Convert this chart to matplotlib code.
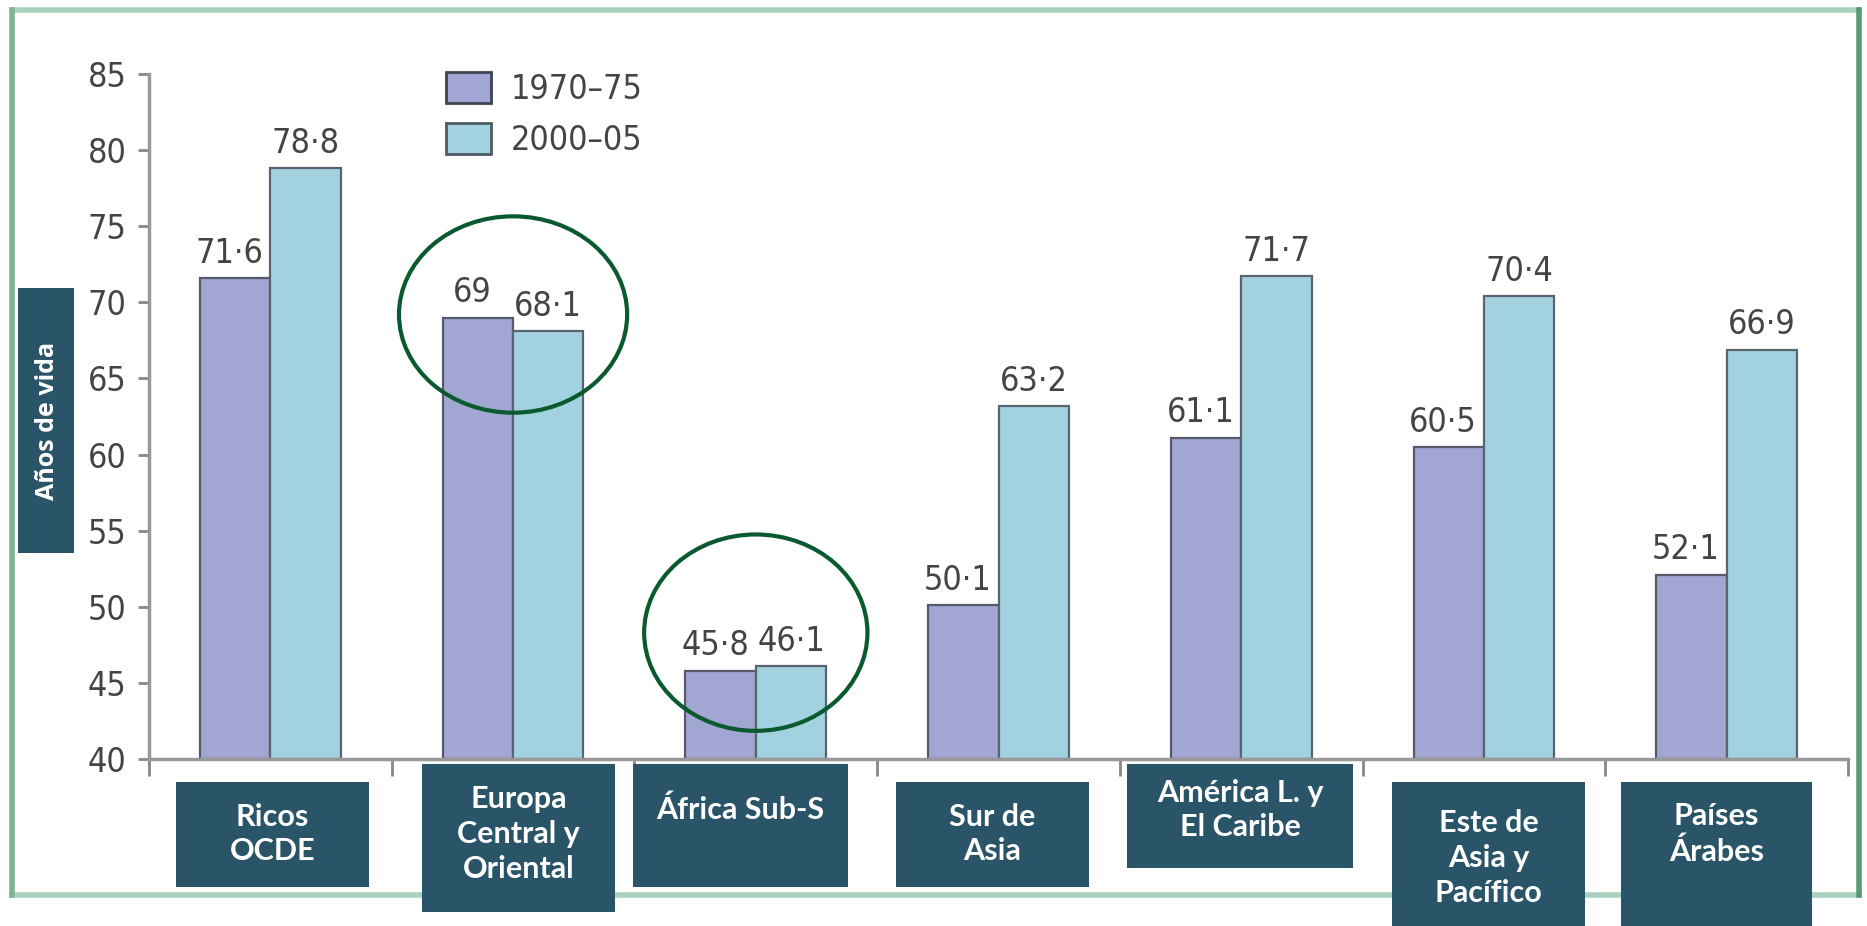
import matplotlib
matplotlib.use("Agg")
import matplotlib.pyplot as plt
from matplotlib.patches import Rectangle, Ellipse, Patch
from matplotlib.lines import Line2D
import numpy as np

# data
regions = ["Ricos\nOCDE", "Europa\nCentral y\nOriental", "África Sub-S", "Sur de\nAsia",
           "América L. y\nEl Caribe", "Este de\nAsia y\nPacífico", "Países\nÁrabes"]
series_names = ["1970–75", "2000–05"]
vals_1970 = [71.6, 69.0, 45.8, 50.1, 61.1, 60.5, 52.1]
vals_2000 = [78.8, 68.1, 46.1, 63.2, 71.7, 70.4, 66.9]
yticks = [40, 45, 50, 55, 60, 65, 70, 75, 80, 85]
circled = [1, 2]  # groups highlighted with a circle

W, H = 1867, 926
fig = plt.figure(figsize=(W / 100, H / 100), dpi=100)
fig.patch.set_facecolor("white")

num_font = {"family": ["DejaVu Sans"], "stretch": "condensed", "size": 24.5}
box_font = ["Lato", "DejaVu Sans"]
c1970 = "#a2a6d2"
c2000 = "#a2d2e0"
navy = "#2a5468"
grey = "#444444"


def px(x0, y0, x1, y1):
    # pixel box (top-left origin) -> figure fraction rect
    return (x0 / W, 1 - y1 / H, (x1 - x0) / W, (y1 - y0) / H)


# outer green frame
fig.add_artist(Line2D([12 / W, 1859 / W], [1 - 10 / H, 1 - 10 / H], color="#a9d1bd", lw=4, transform=fig.transFigure, zorder=1))
fig.add_artist(Line2D([12 / W, 1859 / W], [1 - 895 / H, 1 - 895 / H], color="#a9d1bd", lw=4, transform=fig.transFigure, zorder=1))
fig.add_artist(Line2D([12 / W, 12 / W], [1 - 10 / H, 1 - 895 / H], color="#7fb394", lw=4, transform=fig.transFigure, zorder=1))
fig.add_artist(Line2D([1859 / W, 1859 / W], [1 - 10 / H, 1 - 895 / H], color="#5a9a78", lw=4, transform=fig.transFigure, zorder=1))

ax = fig.add_axes(px(149, 74, 1848, 759))
ax.set_facecolor("none")

x = np.arange(len(regions))
bw = 0.29
ax.bar(x - bw / 2, [v - 40 for v in vals_1970], bw, bottom=40, color=c1970,
       edgecolor="#55596a", linewidth=1.6, zorder=2)
ax.bar(x + bw / 2, [v - 40 for v in vals_2000], bw, bottom=40, color=c2000,
       edgecolor="#5a6470", linewidth=1.6, zorder=2)

# first-period labels sit a touch left of their bar, as in the source
for xs, vals, dx in [(x - bw / 2, vals_1970, -4), (x + bw / 2, vals_2000, 0)]:
    for xi, v in zip(xs, vals):
        ax.annotate(f"{v:g}".replace(".", "·"), (xi, v), xytext=(dx, 6), textcoords="offset points",
                    ha="center", va="bottom", color=grey, **num_font)

ax.set_ylim(40, 85)
ax.set_xlim(-0.5, 6.5)
ax.set_yticks(yticks)
ax.set_yticklabels([str(t) for t in yticks], color=grey, **num_font)
ax.tick_params(axis="y", direction="out", length=8, width=2, color="#888888", pad=8)
ax.set_xticks(np.arange(-0.5, 7, 1))
ax.set_xticklabels([])
ax.tick_params(axis="x", direction="out", length=12, width=2, color="#888888")
for s in ["top", "right"]:
    ax.spines[s].set_visible(False)
for s in ["left", "bottom"]:
    ax.spines[s].set_color("#999999")
    ax.spines[s].set_linewidth(2.5)

# circles around the groups with almost no change
centres = {1: 69.2, 2: 48.3}
for g in circled:
    ax.add_patch(Ellipse((g, centres[g]), 0.94 if g == 1 else 0.92, 12.9, fill=False,
                         edgecolor="#0b5a2f", lw=3, zorder=3, clip_on=False))

handles = [Patch(facecolor=c1970, edgecolor="#3d4150", lw=2),
           Patch(facecolor=c2000, edgecolor="#4e5a64", lw=2)]
leg = ax.legend(handles, series_names, loc="upper left", bbox_to_anchor=(0.157, 1.047), frameon=False,
                handlelength=1.3, handleheight=1.0, labelspacing=0.5, handletextpad=0.6,
                prop=num_font)
for t in leg.get_texts():
    t.set_color(grey)

# y label box
r = px(18, 288, 74, 553)
fig.add_artist(Rectangle(r[:2], r[2], r[3], transform=fig.transFigure,
                         facecolor=navy, edgecolor="none", zorder=2))
fig.text(47 / W, 1 - 421 / H, "Años de vida", rotation=90, ha="center", va="center", color="white",
         fontsize=18, fontweight="bold", family=["Open Sans", "DejaVu Sans"], zorder=3)

# category boxes
boxes = [(176, 782, 369, 887), (422, 764, 615, 912), (633, 764, 848, 887), (896, 782, 1089, 887),
         (1127, 764, 1353, 868), (1392, 782, 1585, 926), (1621, 782, 1812, 926)]
text_y = [834, 834, 810, 834, 810, 858, 834]
for name, (x0, y0, x1, y1), ty in zip(regions, boxes, text_y):
    r = px(x0, y0, x1, y1)
    fig.add_artist(Rectangle(r[:2], r[2], r[3], transform=fig.transFigure, facecolor=navy,
                             edgecolor="none", zorder=2))
    fig.text((x0 + x1) / 2 / W, 1 - ty / H, name, ha="center", va="center", color="white",
             fontsize=22, fontweight="bold", family=box_font, linespacing=1.3, zorder=3)

fig.savefig("out.png", dpi=100)
